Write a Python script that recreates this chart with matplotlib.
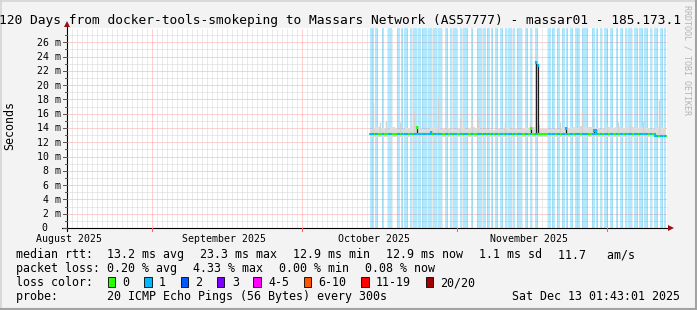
#!/usr/bin/env python3
# SmokePing style 120 day latency graph, redrawn with matplotlib

import datetime as dt
import matplotlib
matplotlib.use("Agg")
import matplotlib.pyplot as plt
from matplotlib.patches import Rectangle
from matplotlib.lines import Line2D
from matplotlib.path import Path
from matplotlib.transforms import offset_copy

plt.rcParams['font.family'] = ['DejaVu Sans Mono']

W, H = 697, 310
START = dt.datetime(2025, 8, 15, 1, 43, 1)
END = dt.datetime(2025, 12, 13, 1, 43, 1)

TITLE = "120 Days from docker-tools-smokeping to Massars Network (AS57777) - massar01 - 185.173.1"
Y_LABEL = "Seconds"
MONTH_LABELS = ["August 2025", "September 2025", "October 2025", "November 2025"]
MONTH_LABEL_AT = [dt.datetime(2025, m, 15, 12) for m in (8, 9, 10, 11)]
Y_TICKS = list(range(0, 28, 2))

# daily samples, first one starts DATA_START days after START
DATA_START = 60.6
DATA_END = 119.8
MEDIAN_MS = [
    13.1, 13.1, 13.2, 13.1, 13.1, 13.1, 13.1, 13.1, 13.1, 13.2,
    13.1, 13.1, 13.1, 13.1, 13.1, 13.1, 13.1, 13.1, 13.1, 13.1,
    13.2, 13.1, 13.1, 13.1, 13.1, 13.1, 13.1, 13.1, 13.1, 13.1,
    13.1, 13.1, 13.1, 13.1, 13.1, 13.1, 13.1, 13.2, 13.1, 13.1,
    13.1, 13.1, 13.1, 13.2, 13.1, 13.1, 13.1, 13.1, 13.1, 13.1,
    13.1, 13.1, 13.1, 13.1, 13.1, 13.1, 13.1, 12.9, 12.9, 12.9,
]
SMOKE_HI_MS = [
    13.9, 14.2, 14.0, 13.8, 14.1, 13.9, 13.8, 14.0, 14.3, 14.2,
    13.9, 13.8, 14.0, 14.1, 13.9, 13.8, 13.7, 13.9, 14.0, 13.8,
    14.1, 14.0, 13.9, 13.8, 13.7, 13.8, 13.9, 14.0, 13.8, 13.9,
    13.8, 14.0, 14.2, 14.4, 13.9, 13.8, 13.9, 13.8, 14.0, 13.9,
    14.1, 14.0, 14.3, 14.1, 14.2, 14.0, 13.9, 14.1, 14.0, 14.2,
    14.0, 14.1, 14.2, 14.0, 14.1, 14.0, 13.9, 14.2, 14.0, 13.9,
]
SMOKE_LO_MS = 12.8

# thin smoke spikes (day offset from START, top in ms)
SMOKE_SPIKE_DAY = [61.2, 62.6, 63.8, 66.6, 69.4, 74.2, 76.0, 78.6, 81.0, 82.2, 87.6,
                   92.6, 94.0, 98.6, 103.0, 105.2, 108.0, 110.2, 112.6, 115.2, 118.4]
SMOKE_SPIKE_TOP = [17.5, 14.8, 15.0, 14.8, 16.2, 18.2, 15.0, 15.4, 15.2, 15.4, 14.8,
                   14.8, 24.6, 14.8, 16.5, 15.5, 14.6, 14.8, 14.6, 15.0, 17.9]

# dense rtt spikes (dark smoke) with the loss count at their top
SPIKE_DAY = [69.94, 72.8, 92.7, 93.86, 94.24, 99.8, 105.34, 105.86]
SPIKE_TOP = [14.3, 13.6, 14.2, 23.4, 23.0, 14.2, 13.9, 13.8]
SPIKE_LOSS = [0, 1, 0, 1, 1, 1, 1, 1]

# intervals with 1/20 packet loss (day offsets from START)
LOSS_START = [60.6, 61.6, 62.93, 64.27, 66.07, 66.8, 67.47, 68.6, 69.27, 70.2, 71.0,
              72.27, 73.27, 74.2, 75.6, 76.6, 77.27, 78.6, 79.27, 80.8, 81.93, 83.27,
              83.93, 84.8, 85.6, 86.6, 87.6, 88.27, 89.27, 89.93, 91.6, 92.6, 93.6,
              96.13, 97.0, 97.93, 98.93, 99.8, 100.6, 101.6, 103.07, 104.93, 105.8,
              106.6, 107.47, 108.6, 109.73, 110.6, 111.6, 112.27, 113.47, 114.4,
              115.47, 116.6, 117.47, 118.6, 119.4]
LOSS_END = [61.4, 62.27, 63.4, 64.93, 66.53, 67.2, 68.27, 68.93, 70.0, 70.8, 71.93,
            72.93, 74.0, 75.07, 76.13, 77.07, 78.07, 78.93, 80.27, 81.27, 82.93, 83.73,
            84.6, 85.27, 86.27, 87.27, 87.93, 88.93, 89.6, 90.93, 92.27, 93.07, 94.27,
            96.8, 97.6, 98.6, 99.6, 100.27, 101.27, 102.6, 104.27, 105.6, 106.27,
            107.07, 108.27, 109.27, 110.27, 111.27, 111.93, 112.93, 114.13, 115.27,
            116.27, 117.07, 118.27, 119.27, 119.8]

LOSS_LABELS = ["0", "1", "2", "3", "4-5", "6-10", "11-19", "20/20"]
LOSS_COLORS = ["#26ff00", "#00b8ff", "#0059ff", "#7e00ff", "#ff00ff", "#ff5500", "#ff0000", "#a10000"]

RTT_ROW = ["median rtt:  13.2 ms avg", "23.3 ms max", "12.9 ms min", "12.9 ms now",
           "1.1 ms sd", "11.7   am/s"]
LOSS_ROW = ["packet loss: 0.20 % avg", "4.33 % max", "0.00 % min", "0.08 % now"]
PROBE = "probe:       20 ICMP Echo Pings (56 Bytes) every 300s"
STAMP = "Sat Dec 13 01:43:01 2025"


def days(t):
    return (t - START).total_seconds() / 86400.0


def fx(px):
    return px / W


def fy(py):
    return 1 - py / H


fig = plt.figure(figsize=(W / 100, H / 100), dpi=100, facecolor='#f3f3f3')
ax = fig.add_axes([fx(67), fy(228), 600 / W, 200 / H])
ax.set_facecolor('white')
ax.set_xlim(0, days(END))
ax.set_ylim(0, 28)
for s in ax.spines.values():
    s.set_visible(False)
ax.set_xticks([])
ax.set_yticks([])

# grid
dots = (0, (1, 1))
for v in range(1, 28):
    col = '#ffa0a0' if v % 2 == 0 else '#d6d6d6'
    ax.axhline(v, color=col, lw=0.72, ls=dots, zorder=0.5)
d = dt.datetime(2025, 8, 16)
while d < END:
    col = '#ffa0a0' if d.day == 1 else '#d6d6d6'
    ax.axvline(days(d), color=col, lw=0.72, ls=dots, zorder=0.5)
    d += dt.timedelta(days=1)

# loss background
for s, e in zip(LOSS_START, LOSS_END):
    ax.axvspan(s, e, facecolor=LOSS_COLORS[1], alpha=0.3, lw=0, zorder=1)

# smoke
xs = [min(DATA_START + i, DATA_END) for i in range(len(MEDIAN_MS) + 1)]
ax.fill_between(xs, SMOKE_LO_MS, SMOKE_HI_MS + SMOKE_HI_MS[-1:], step='post',
                color='#dcdcdc', lw=0, zorder=2)
ax.vlines(SMOKE_SPIKE_DAY, 13.0, SMOKE_SPIKE_TOP, colors='#d2d2d2', lw=1.0, zorder=2)

# dark spikes
ax.vlines(SPIKE_DAY, 13.1, SPIKE_TOP, colors='#1c1c1c', lw=0.9, zorder=3)
ax.vlines(SPIKE_DAY, [t - 0.45 for t in SPIKE_TOP], SPIKE_TOP,
          colors=[LOSS_COLORS[l] for l in SPIKE_LOSS], lw=1.6, zorder=4)

# median line, green where no loss, blue inside the loss intervals
ys = MEDIAN_MS + MEDIAN_MS[-1:]
ax.step(xs, ys, where='post', color=LOSS_COLORS[0], lw=1.5, zorder=4)
verts, codes = [], []
for s, e in zip(LOSS_START, LOSS_END):
    verts += [(s, -1), (e, -1), (e, 40), (s, 40), (s, -1)]
    codes += [Path.MOVETO, Path.LINETO, Path.LINETO, Path.LINETO, Path.CLOSEPOLY]
blue, = ax.step(xs, ys, where='post', color=LOSS_COLORS[1], lw=1.5, zorder=4)
blue.set_clip_path(Path(verts, codes), ax.transData)

# axes with arrows
ax.plot([-1.0, 120.3], [0, 0], color='black', lw=0.8, clip_on=False, zorder=6)
ax.plot([0, 0], [-0.4, 28.3], color='black', lw=0.8, clip_on=False, zorder=6)
ax.plot([120.7], [0], marker='>', ms=4.5, color='#991111', mew=0, clip_on=False, zorder=7)
ax.plot([0], [28.55], marker='^', ms=4.5, color='#991111', mew=0, clip_on=False, zorder=7)

# y ticks and labels
lab_tr = offset_copy(ax.transData, fig=fig, x=0, y=-3.4, units='dots')
for v in range(0, 28):
    ax.plot([-0.8 if v % 2 == 0 else -0.4, 0], [v, v], color='#555555', lw=0.7,
            clip_on=False, zorder=6)
for v in Y_TICKS:
    if v == 0:
        ax.text(-3.85, v, "0", ha='right', va='baseline', fontsize=7.1,
                transform=lab_tr, clip_on=False)
    else:
        ax.text(-1.2, v, f"{v} m", ha='right', va='baseline', fontsize=7.1,
                transform=lab_tr, clip_on=False)

# x ticks and labels
for m in (9, 10, 11, 12):
    x = days(dt.datetime(2025, m, 1))
    ax.plot([x, x], [0, -0.45], color='#ff6060', lw=0.8, clip_on=False, zorder=6)
xl_tr = offset_copy(ax.transData, fig=fig, x=0, y=-13.5, units='dots')
for lab, t in zip(MONTH_LABELS, MONTH_LABEL_AT):
    ax.text(days(t), 0, lab, ha='center', va='baseline', fontsize=7.1,
            transform=xl_tr, clip_on=False)

# title and side texts
fig.text(fx(-1), fy(24), TITLE, ha='left', va='baseline', fontsize=9.3)
fig.text(fx(10), fy(126), Y_LABEL, rotation=90, ha='center', va='center', fontsize=8.4)
fig.text(fx(686.5), fy(60), "RRDTOOL / TOBI OETIKER", rotation=270, ha='center',
         va='center', fontsize=6, color='#b4b4b4')

# legend block, rrdtool style: monospace items separated by a fixed gap
LEG = 8.4
CH = 7.0
GAP = 16.1
X0 = 15.5


def legend_row(items, base):
    x = X0
    for txt in items:
        fig.text(fx(x), fy(base), txt, ha='left', va='baseline', fontsize=LEG)
        x += len(txt) * CH + GAP


legend_row(RTT_ROW, 258)
legend_row(LOSS_ROW, 272)
fig.text(fx(X0), fy(286), "loss color:", ha='left', va='baseline', fontsize=LEG)
col = 13.1
for lab, c in zip(LOSS_LABELS, LOSS_COLORS):
    x0 = 16 + col * CH
    fig.add_artist(Rectangle((fx(x0), fy(286.5)), 7.5 / W, 10 / H, transform=fig.transFigure,
                             facecolor=c, edgecolor='black', lw=0.6))
    fig.text(fx(x0 + 2.2 * CH - 0.5), fy(286), lab, ha='left', va='baseline', fontsize=LEG)
    col += 2.2 + len(lab) + 2
fig.text(fx(X0), fy(300), PROBE, ha='left', va='baseline', fontsize=LEG)
fig.text(fx(512.5), fy(300), STAMP, ha='left', va='baseline', fontsize=LEG)

# 3d-ish frame
fig.add_artist(Line2D([0, 1], [fy(0.5), fy(0.5)], color='#d4d4d4', lw=1.2))
fig.add_artist(Line2D([fx(0.5), fx(0.5)], [0, 1], color='#d4d4d4', lw=1.2))
fig.add_artist(Line2D([0, 1], [fy(309), fy(309)], color='#a3a3a3', lw=1.5))
fig.add_artist(Line2D([fx(696), fx(696)], [0, 1], color='#a3a3a3', lw=1.5))

fig.savefig('out.png', dpi=100, facecolor=fig.get_facecolor())
